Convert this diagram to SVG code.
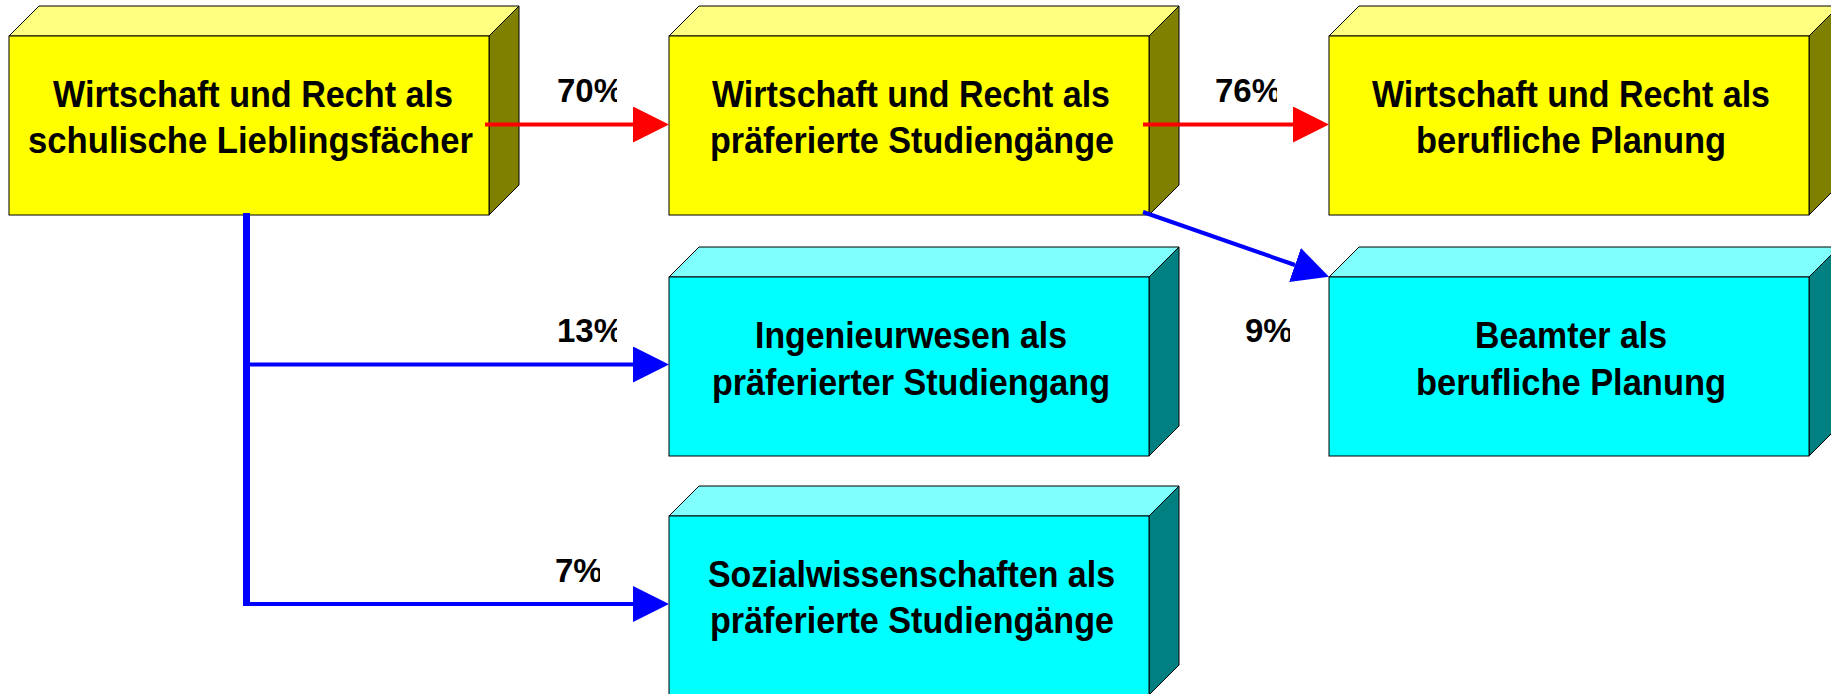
<svg xmlns="http://www.w3.org/2000/svg" width="1831" height="694" viewBox="0 0 1831 694">
<style>
  .front{stroke:#000;stroke-width:1}
  .top,.side{stroke:#000;stroke-width:1;stroke-linejoin:round}
  .yf{fill:#FFFF00}.yt{fill:#FFFF80}.ys{fill:#808000}
  .cf{fill:#00FFFF}.ct{fill:#80FFFF}.cs{fill:#008080}
  .lbl{font-family:"Liberation Sans",Arial,sans-serif;font-weight:bold;font-size:36px;fill:#000;text-anchor:middle}
  .pct{font-family:"Liberation Sans",Arial,sans-serif;font-weight:bold;font-size:33px;fill:#000;letter-spacing:0px}
  .red{stroke:#FF0000;stroke-width:4;fill:none}
  .blue{stroke:#0000FF;stroke-width:4;fill:none}
</style>
<defs>
  <marker id="ar" markerUnits="userSpaceOnUse" markerWidth="36" markerHeight="36" refX="0" refY="18" orient="auto">
    <path d="M0,0 L36,18 L0,36 Z" fill="#FF0000"/>
  </marker>
  <marker id="ab" markerUnits="userSpaceOnUse" markerWidth="36" markerHeight="36" refX="0" refY="18" orient="auto">
    <path d="M0,0 L36,18 L0,36 Z" fill="#0000FF"/>
  </marker>
  <clipPath id="c70"><rect x="540" y="60" width="77" height="60"/></clipPath>
  <clipPath id="c76"><rect x="1200" y="60" width="77" height="60"/></clipPath>
  <clipPath id="c13"><rect x="540" y="300" width="77" height="60"/></clipPath>
  <clipPath id="c9"><rect x="1230" y="300" width="60" height="60"/></clipPath>
  <clipPath id="c7"><rect x="540" y="540" width="60" height="60"/></clipPath>
</defs>

<g id="box1">
  <polygon class="top yt" points="9,36 39,6 519,6 489,36"/>
  <polygon class="side ys" points="489,36 519,6 519,185 489,215"/>
  <rect class="front yf" x="9" y="36" width="480" height="179"/>
  <text class="lbl" x="253" y="107" textLength="400" lengthAdjust="spacingAndGlyphs">Wirtschaft und Recht als</text>
  <text class="lbl" x="250.5" y="153" textLength="445" lengthAdjust="spacingAndGlyphs">schulische Lieblingsfächer</text>
</g>

<g id="box2">
  <polygon class="top yt" points="669,36 699,6 1179,6 1149,36"/>
  <polygon class="side ys" points="1149,36 1179,6 1179,185 1149,215"/>
  <rect class="front yf" x="669" y="36" width="480" height="179"/>
  <text class="lbl" x="911" y="107" textLength="398" lengthAdjust="spacingAndGlyphs">Wirtschaft und Recht als</text>
  <text class="lbl" x="912" y="153" textLength="404" lengthAdjust="spacingAndGlyphs">präferierte Studiengänge</text>
</g>

<g id="box3">
  <polygon class="top yt" points="1329,36 1359,6 1839,6 1809,36"/>
  <polygon class="side ys" points="1809,36 1839,6 1839,185 1809,215"/>
  <rect class="front yf" x="1329" y="36" width="480" height="179"/>
  <text class="lbl" x="1571" y="107" textLength="398" lengthAdjust="spacingAndGlyphs">Wirtschaft und Recht als</text>
  <text class="lbl" x="1571" y="153" textLength="310" lengthAdjust="spacingAndGlyphs">berufliche Planung</text>
</g>

<g id="box4">
  <polygon class="top ct" points="669,277 699,247 1179,247 1149,277"/>
  <polygon class="side cs" points="1149,277 1179,247 1179,426 1149,456"/>
  <rect class="front cf" x="669" y="277" width="480" height="179"/>
  <text class="lbl" x="911" y="348" textLength="312" lengthAdjust="spacingAndGlyphs">Ingenieurwesen als</text>
  <text class="lbl" x="911" y="395" textLength="398" lengthAdjust="spacingAndGlyphs">präferierter Studiengang</text>
</g>

<g id="box5">
  <polygon class="top ct" points="1329,277 1359,247 1839,247 1809,277"/>
  <polygon class="side cs" points="1809,277 1839,247 1839,426 1809,456"/>
  <rect class="front cf" x="1329" y="277" width="480" height="179"/>
  <text class="lbl" x="1571" y="348" textLength="192" lengthAdjust="spacingAndGlyphs">Beamter als</text>
  <text class="lbl" x="1571" y="395" textLength="310" lengthAdjust="spacingAndGlyphs">berufliche Planung</text>
</g>

<g id="box6">
  <polygon class="top ct" points="669,516 699,486 1179,486 1149,516"/>
  <polygon class="side cs" points="1149,516 1179,486 1179,665 1149,695"/>
  <rect class="front cf" x="669" y="516" width="480" height="179"/>
  <text class="lbl" x="911.5" y="587" textLength="407" lengthAdjust="spacingAndGlyphs">Sozialwissenschaften als</text>
  <text class="lbl" x="912" y="633" textLength="404" lengthAdjust="spacingAndGlyphs">präferierte Studiengänge</text>
</g>

<g id="connectors">
  <line class="red" x1="485" y1="124.5" x2="633" y2="124.5" marker-end="url(#ar)"/>
  <line class="red" x1="1143" y1="124.5" x2="1293" y2="124.5" marker-end="url(#ar)"/>
  <line stroke="#0000FF" stroke-width="7" x1="246.5" y1="213" x2="246.5" y2="606"/>
  <line class="blue" x1="246" y1="364.5" x2="633" y2="364.5" marker-end="url(#ab)"/>
  <line class="blue" x1="246" y1="604" x2="633" y2="604" marker-end="url(#ab)"/>
  <line class="blue" x1="1143" y1="212" x2="1295" y2="265" marker-end="url(#ab)"/>
</g>

<g id="labels">
  <text class="pct" x="557" y="102" clip-path="url(#c70)">70%</text>
  <text class="pct" x="1215" y="102" clip-path="url(#c76)">76%</text>
  <text class="pct" x="557" y="342" clip-path="url(#c13)">13%</text>
  <text class="pct" x="1245" y="342" clip-path="url(#c9)">9%</text>
  <text class="pct" x="555" y="582" clip-path="url(#c7)">7%</text>
</g>
</svg>
